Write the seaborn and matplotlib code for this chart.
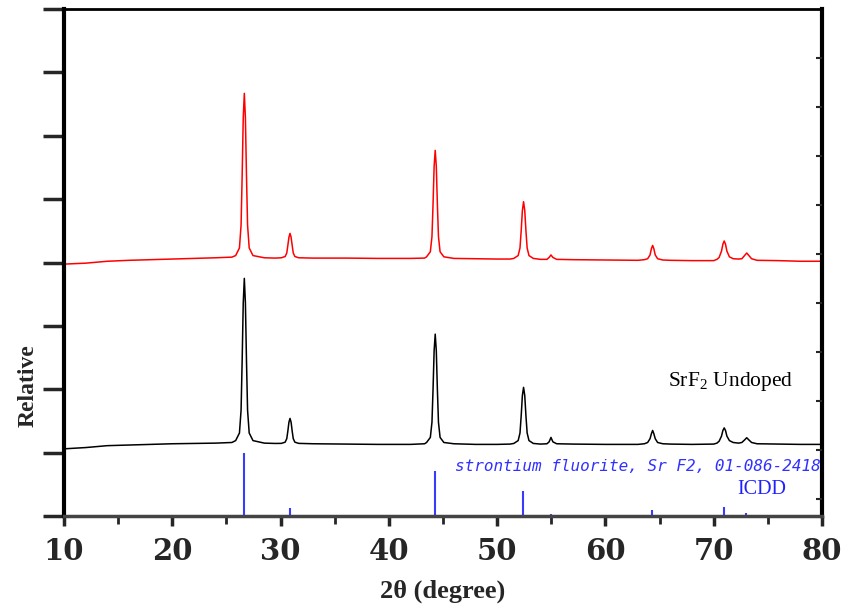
import numpy as np
import pandas as pd
import seaborn as sns
import matplotlib.pyplot as plt

# XRD patterns of SrF2 (arbitrary units)
two_theta_black = [10, 12, 14, 16, 18, 20, 22, 24, 25.5,
                   25.85, 26.20, 26.35, 26.45, 26.55, 26.65, 26.75, 26.85, 26.95, 27.10, 27.45,
                   28.5, 29.5,
                   30.07, 30.42, 30.57, 30.67, 30.77, 30.87, 30.97, 31.07, 31.17, 31.32, 31.67,
                   33, 36, 39, 42, 43.3,
                   43.48, 43.83, 43.98, 44.08, 44.18, 44.28, 44.38, 44.48, 44.58, 44.73, 45.08,
                   46, 48, 50, 51.2,
                   51.54, 51.94, 52.11, 52.22, 52.33, 52.44, 52.55, 52.66, 52.77, 52.94, 53.34,
                   54, 54.6, 54.8, 54.97, 55.15, 55.5, 57, 60, 63, 63.6,
                   63.9, 64.12, 64.25, 64.36, 64.47, 64.60, 64.82, 65.3, 66, 68, 70, 70.3,
                   70.5, 70.72, 70.85, 70.97, 71.09, 71.22, 71.45, 71.8, 72.3,
                   72.6, 72.85, 73.05, 73.25, 73.5, 74, 76, 78, 80]
intensity_black = [1.06, 1.08, 1.11, 1.12, 1.13, 1.14, 1.145, 1.15, 1.16,
                   1.19, 1.31, 1.67, 2.45, 3.36, 3.75, 3.36, 2.45, 1.67, 1.31, 1.19,
                   1.15, 1.145,
                   1.146, 1.165, 1.22, 1.34, 1.48, 1.54, 1.48, 1.34, 1.22, 1.165, 1.146,
                   1.14, 1.135, 1.13, 1.13, 1.14,
                   1.16, 1.24, 1.48, 2.00, 2.61, 2.87, 2.61, 2.00, 1.48, 1.24, 1.16,
                   1.14, 1.13, 1.13, 1.135,
                   1.145, 1.19, 1.31, 1.58, 1.90, 2.03, 1.90, 1.58, 1.31, 1.19, 1.145,
                   1.135, 1.14, 1.17, 1.24, 1.17, 1.14, 1.135, 1.13, 1.13, 1.14,
                   1.16, 1.22, 1.30, 1.35, 1.30, 1.22, 1.16, 1.14, 1.135, 1.13, 1.135, 1.15,
                   1.18, 1.26, 1.35, 1.39, 1.35, 1.26, 1.19, 1.16, 1.15,
                   1.16, 1.20, 1.235, 1.20, 1.16, 1.14, 1.135, 1.13, 1.13]

two_theta_red = two_theta_black
intensity_red = [3.975, 3.99, 4.02, 4.035, 4.045, 4.055, 4.065, 4.075, 4.085,
                 4.11, 4.23, 4.59, 5.37, 6.28, 6.67, 6.28, 5.37, 4.59, 4.23, 4.11,
                 4.075, 4.07,
                 4.075, 4.095, 4.15, 4.27, 4.40, 4.46, 4.40, 4.27, 4.15, 4.095, 4.075,
                 4.07, 4.07, 4.065, 4.065, 4.07,
                 4.09, 4.17, 4.41, 4.92, 5.52, 5.77, 5.52, 4.92, 4.41, 4.17, 4.09,
                 4.065, 4.06, 4.055, 4.055,
                 4.065, 4.11, 4.23, 4.50, 4.82, 4.96, 4.82, 4.50, 4.23, 4.11, 4.065,
                 4.05, 4.05, 4.08, 4.12, 4.08, 4.05, 4.045, 4.04, 4.035, 4.045,
                 4.06, 4.12, 4.22, 4.27, 4.22, 4.12, 4.06, 4.04, 4.035, 4.03, 4.03, 4.05,
                 4.08, 4.18, 4.29, 4.34, 4.29, 4.18, 4.09, 4.06, 4.055,
                 4.06, 4.11, 4.15, 4.11, 4.06, 4.035, 4.03, 4.02, 4.02]

# ICDD 01-086-2418 reference sticks (relative intensity, 1 = 100 %)
icdd_pos = [26.62, 30.87, 44.26, 52.39, 54.97, 64.3, 70.95, 72.98]
icdd_int = [1.0, 0.13, 0.71, 0.39, 0.03, 0.09, 0.14, 0.05]

df = pd.DataFrame({"two_theta": two_theta_black + two_theta_red,
                   "intensity": intensity_black + intensity_red,
                   "sample": ["black"] * len(two_theta_black) + ["red"] * len(two_theta_red)})

sns.set_theme(style="white")
plt.rcParams['font.family'] = ['Liberation Serif', 'DejaVu Serif']
plt.rcParams['mathtext.fontset'] = 'custom'
plt.rcParams['mathtext.rm'] = 'Liberation Serif'

fig = plt.figure(figsize=(8.46, 6.04), dpi=100)
ax = fig.add_axes([0.0757, 0.1457, 0.8959, 0.8393])

sns.lineplot(data=df, x="two_theta", y="intensity", hue="sample",
             palette={"black": "black", "red": "red"}, linewidth=1.1,
             legend=False, estimator=None, sort=False, ax=ax)
ax.vlines(icdd_pos, 0, icdd_int, colors="#3a3aff", linewidth=1.5)

ax.set_xlim(10, 80)
ax.set_ylim(0, 8)
ax.set_xticks(range(10, 81, 10))
ax.set_xticks(range(15, 80, 10), minor=True)
ax.set_yticks(range(0, 9))
ax.set_yticklabels([])
for lab in ax.get_xticklabels():
    lab.set_fontfamily('DejaVu Serif')
    lab.set_fontweight('bold')
    lab.set_fontsize(21)
ax.tick_params(axis='x', which='major', direction='out', length=7, width=2.5, pad=8, bottom=True)
ax.tick_params(axis='x', which='minor', direction='out', length=6, width=2, bottom=True)
ax.tick_params(axis='y', which='major', direction='out', length=15, width=2.5, left=True)

for side in ['left', 'right']:
    ax.spines[side].set_linewidth(3)
    ax.spines[side].set_color('black')
ax.spines['top'].set_linewidth(2)
ax.spines['top'].set_color('black')
ax.spines['bottom'].set_linewidth(2.5)
ax.spines['bottom'].set_color('#444444')

# right-hand ticks (inward, different spacing)
ax2 = ax.twinx()
ax2.set_ylim(0, 8)
ax2.set_yticks([8 - 0.773 * k for k in range(1, 11)])
ax2.set_yticklabels([])
ax2.tick_params(axis='y', direction='in', length=4, width=1.5, right=True)
for sp in ax2.spines.values():
    sp.set_visible(False)

ax.set_xlabel("2θ (degree)", fontsize=19, fontweight='bold', labelpad=10)
ax.set_ylabel("Relative", fontsize=17, fontweight='bold')
ax.yaxis.set_label_coords(-0.034, 0.258)

ax.text(65.8, 2.13, r"Sr$\mathrm{F}_2$ Undoped", fontsize=15.5, color='black', va='center')
ax.text(79.9, 0.78, "strontium fluorite, Sr F2, 01-086-2418", fontsize=11.5,
        family='DejaVu Sans Mono', style='oblique', color='#3030ff', ha='right', va='center')
ax.text(74.46, 0.42, "ICDD", fontsize=14.5, color='#2020ff', ha='center', va='center')

fig.savefig("out.png", dpi=100)
